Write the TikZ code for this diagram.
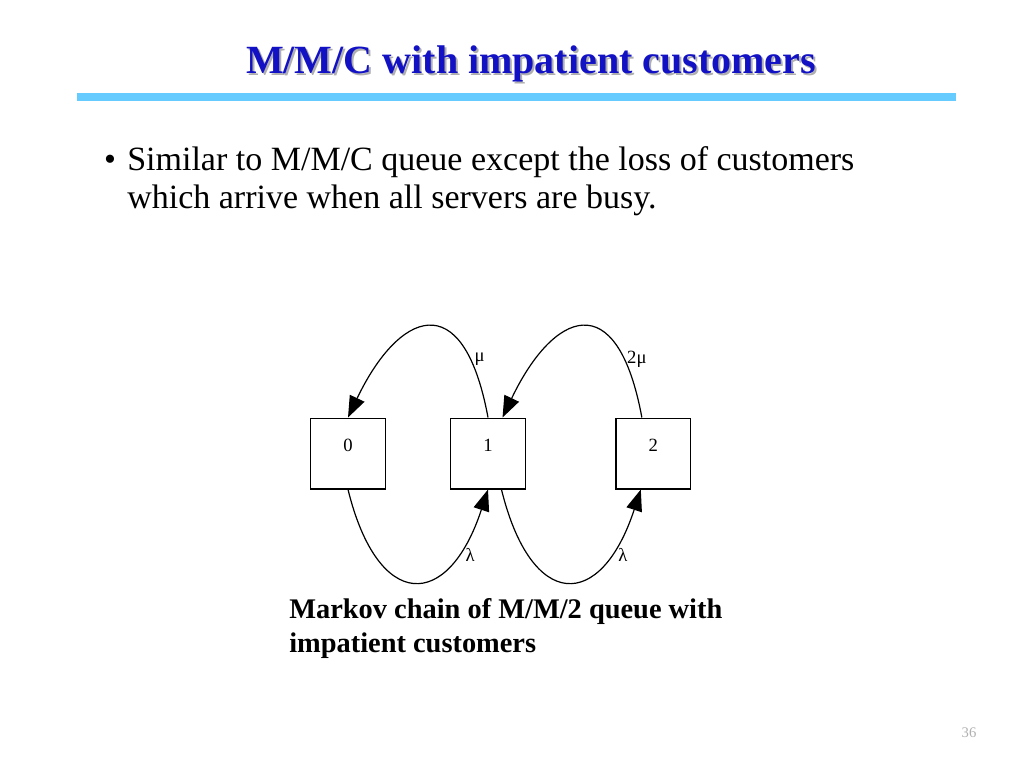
\documentclass[tikz,border=0pt]{standalone}
\usepackage{fontspec}
\setmainfont{Liberation Serif}
\usetikzlibrary{arrows.meta,positioning}
\definecolor{titleblue}{RGB}{18,18,196}
\definecolor{rulesky}{RGB}{102,204,255}
\definecolor{shade}{RGB}{175,175,175}
% text with a soft drop shadow
\newcommand{\shadowed}[1]{\makebox[0pt][l]{\hspace{1.5pt}\raisebox{-1.5pt}{\textcolor{shade}{#1}}}#1}
\tikzset{
  qstate/.style={draw, line width=1pt, minimum width=56pt, minimum height=53pt,
    inner sep=0pt, text depth=12pt, font=\fontsize{14}{16}\selectfont},
  trans/.style={-{Triangle[length=16pt,width=12pt]}, line width=0.9pt},
  rate/.style={font=\fontsize{14}{16}\selectfont, inner sep=1pt},
  slide/.style={anchor=base west, align=left, inner sep=0pt},
}
\begin{document}
\begin{tikzpicture}[x=0.75pt, y=-0.75pt]
		\useasboundingbox (0,0) rectangle (1024,768) ;
		% Heading
		\node[anchor=base, text=titleblue, font=\fontsize{30}{36}\bfseries] (title) at (531,73) {\shadowed{M/M/C with impatient customers}} ;
		\coordinate (ruleL) at (77,97) ;
		\coordinate (ruleR) at (956,97) ;
		\draw[rulesky, line width=6pt] (ruleL) -- (ruleR) ;
		% Bullet
		\node[anchor=base, font=\fontsize{25.5}{28.5}\selectfont] (dot) at (110,170) {•} ;
		\node[slide, font=\fontsize{25.5}{28.5}\selectfont] (point) at (127,208) {Similar to M/M/C queue except the loss of customers\\which arrive when all servers are busy.} ;
		% Chain
		\node[qstate] (n0) at (348,453.5) {0} ;
		\node[qstate, right=48pt of n0] (n1) {1} ;
		\node[qstate, right=67pt of n1] (n2) {2} ;
		% departures
		\draw[trans] (n1.north) .. controls +(-25,-135) and +(50,-105) .. (n0.north)
			node[rate, pos=0.2, right, xshift=3pt, yshift=-2.5pt] {μ} ;
		\draw[trans] ([xshift=-8.6pt]n2.north) .. controls +(-25,-135) and +(50,-105) .. ([xshift=10.9pt]n1.north)
			node[rate, pos=0.2, right, xshift=2pt, yshift=-2.5pt] {2μ} ;
		% arrivals
		\draw[trans] (n0.south) .. controls +(30,122) and +(-40,122) .. (n1.south)
			node[rate, pos=0.8, anchor=north west, xshift=2pt, yshift=1pt] {λ} ;
		\draw[trans] ([xshift=10.1pt]n1.south) .. controls +(30,122) and +(-40,122) .. ([xshift=-9.4pt]n2.south)
			node[rate, pos=0.8, anchor=north west, xshift=2pt, yshift=1pt] {λ} ;
		% Caption
		\node[slide, font=\fontsize{21.3}{25.5}\bfseries] (caption) at (289,652) {Markov chain of M/M/2 queue with\\impatient customers} ;
		\node[text=shade, font=\fontsize{11}{13}\selectfont] (page) at (969,733) {36} ;
	\end{tikzpicture}
\end{document}
